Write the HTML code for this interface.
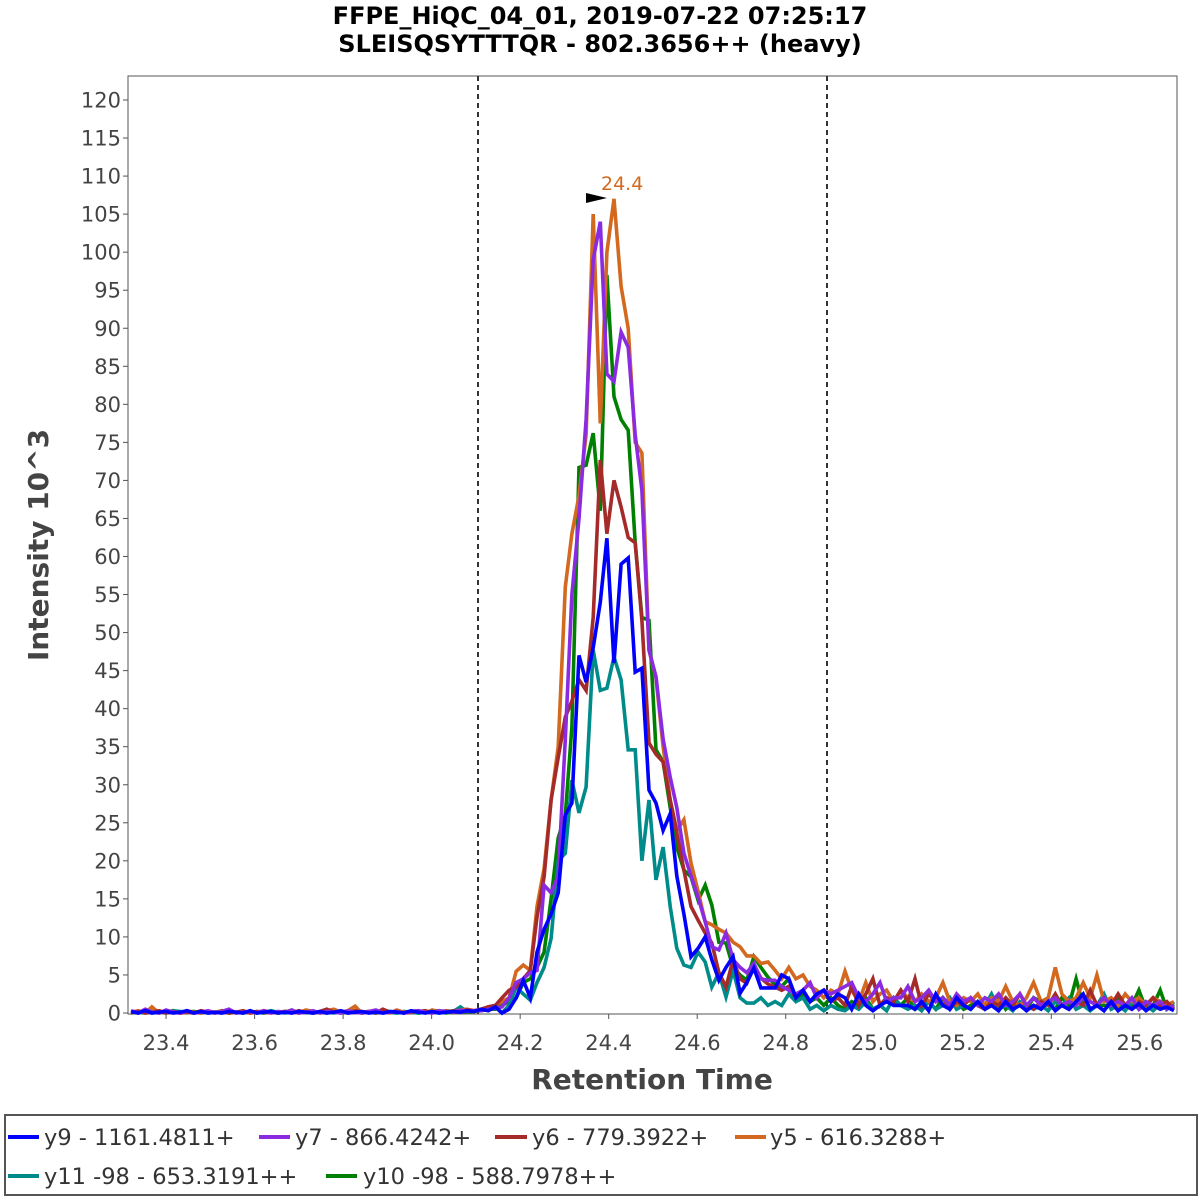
<!DOCTYPE html>
<html><head><meta charset="utf-8"><style>
html,body{margin:0;padding:0;background:#fff;width:1200px;height:1200px;overflow:hidden}
svg text{font-family:"DejaVu Sans","Liberation Sans",sans-serif}
</style></head><body>
<svg id="chart" width="1200" height="1200" viewBox="0 0 1200 1200" xmlns="http://www.w3.org/2000/svg">
<rect x="0" y="0" width="1200" height="1200" fill="#fff"/>
<text x="600" y="24" text-anchor="middle" font-size="24" font-weight="bold" fill="#000">FFPE_HiQC_04_01, 2019-07-22 07:25:17</text>
<text x="600" y="52" text-anchor="middle" font-size="24" font-weight="bold" fill="#000">SLEISQSYTTTQR - 802.3656++ (heavy)</text>
<rect x="128" y="76" width="1049" height="938" fill="#fff" stroke="#555" stroke-width="1"/>
<g id="yticks"></g>
<g id="xticks"></g>
<line x1="478" y1="76" x2="478" y2="1014" stroke="#333" stroke-width="2" stroke-dasharray="5,4"/>
<line x1="827" y1="76" x2="827" y2="1014" stroke="#333" stroke-width="2" stroke-dasharray="5,4"/>
<g id="series"></g>
<polygon points="586,193 607,198 586,203" fill="#000"/>
<text x="601" y="190" font-size="19" fill="#d2691e">24.4</text>
<text x="0" y="0" transform="translate(48,545) rotate(-90)" text-anchor="middle" font-size="28" font-weight="bold" fill="#444">Intensity 10^3</text>
<text x="652" y="1089" text-anchor="middle" font-size="28" font-weight="bold" fill="#444">Retention Time</text>
<g>
<rect x="5" y="1115" width="1192" height="80" fill="#fff" stroke="#555" stroke-width="2"/>
<line x1="8" y1="1137" x2="39" y2="1137" stroke="#0000ff" stroke-width="4"/>
<text x="44" y="1145" font-size="22.5" fill="#333">y9 - 1161.4811+</text>
<line x1="259" y1="1137" x2="290" y2="1137" stroke="#8a2be2" stroke-width="4"/>
<text x="295" y="1145" font-size="22.5" fill="#333">y7 - 866.4242+</text>
<line x1="495" y1="1137" x2="527" y2="1137" stroke="#a52a2a" stroke-width="4"/>
<text x="532" y="1145" font-size="22.5" fill="#333">y6 - 779.3922+</text>
<line x1="735" y1="1137" x2="766" y2="1137" stroke="#d2691e" stroke-width="4"/>
<text x="770" y="1145" font-size="22.5" fill="#333">y5 - 616.3288+</text>
<line x1="8" y1="1176" x2="39" y2="1176" stroke="#008b8b" stroke-width="4"/>
<text x="44" y="1184" font-size="22.5" fill="#333">y11 -98 - 653.3191++</text>
<line x1="326" y1="1176" x2="357" y2="1176" stroke="#008000" stroke-width="4"/>
<text x="363" y="1184" font-size="22.5" fill="#333">y10 -98 - 588.7978++</text>
</g>
</svg>
<script>
const times = [
23.321,23.337,23.353,23.368,23.384,23.400,23.416,23.432,23.447,23.463,
23.479,23.495,23.511,23.526,23.542,23.558,23.574,23.590,23.605,23.621,
23.637,23.653,23.669,23.684,23.700,23.716,23.732,23.748,23.763,23.779,
23.795,23.811,23.827,23.842,23.858,23.874,23.890,23.906,23.921,23.937,
23.954,23.970,23.986,24.001,24.017,24.033,24.049,24.065,24.080,24.096,
24.112,24.128,24.144,24.159,24.175,24.191,24.207,24.223,24.238,24.254,
24.270,24.286,24.302,24.317,24.333,24.349,24.365,24.381,24.396,24.412,
24.428,24.444,24.460,24.475,24.491,24.507,24.523,24.539,24.554,24.570,
24.586,24.602,24.618,24.633,24.649,24.665,24.681,24.697,24.712,24.728,
24.744,24.760,24.776,24.791,24.807,24.823,24.839,24.855,24.870,24.886,
24.902,24.918,24.934,24.949,24.965,24.981,24.997,25.013,25.028,25.044,
25.060,25.076,25.092,25.107,25.123,25.139,25.155,25.171,25.186,25.202,
25.218,25.234,25.250,25.265,25.281,25.297,25.313,25.329,25.344,25.360,
25.377,25.393,25.409,25.424,25.440,25.456,25.472,25.488,25.503,25.519,
25.535,25.551,25.567,25.582,25.598,25.614,25.630,25.646,25.661,25.677];
const y9 = [
0.2,0,0.3,0,0.1,0.2,0,0.1,0.3,0,
0.2,0,0.1,0,0.2,0.1,0,0.3,0,0.1,
0.2,0,0.1,0,0.2,0.1,0,0.2,0,0.1,
0.3,0,0.1,0.2,0,0.1,0,0.2,0.1,0,
0.3,0.1,0,0.2,0,0.1,0.2,0.1,0.3,0.2,
0.5,0.3,0.8,0,0.5,2,4.3,2,8,11,
13,15.8,26,27.6,47,43.5,48,54,62.4,46,
59,59.8,44.8,45.3,29.3,27.6,24,26.2,18,13,
7.4,8.5,10,7,4.3,6,7.4,2.6,4,5.9,
3.3,3.3,3.3,5,4.5,2,3,1.5,2.5,3,
1.5,2.5,2,0.5,2.5,1,0.3,1,1.5,1,
1,1,0.5,1.5,0.3,2.5,1,0.5,2,1,
0.5,1.5,0.5,1,0.3,1.5,0.5,1,0.3,1,
0.5,1.5,0.3,1,0.5,1.5,2.5,0.5,1,0.3,
1.5,0.3,1,0.5,1.2,0.3,1,0.5,0.8,0.3];
const y7 = [
0.3,0,0.5,0.1,0,0.4,0.1,0,0.3,0,
0.1,0.3,0,0.2,0.5,0,0.1,0.2,0,0.3,
0,0.2,0.1,0.4,0,0.1,0.3,0,0.2,0.1,
0,0.3,0.1,0,0.2,0.4,0,0.1,0.2,0,
0.2,0.3,0.1,0,0.3,0.2,0.1,0.4,0.2,0.3,
0.3,0.5,0.6,0.8,2,4,4.5,5.3,5.6,16.8,
15.8,18,36,55,65,78,99,104,84,83,
89.5,87.5,76,68.7,47.7,44.2,36,31,27,21,
18,15.2,12,8.7,8.3,10.5,7,6,5.3,6.5,
4.5,4.3,4.3,3.5,3,2.5,3,4,2,3,
2.5,3,3.5,4,2,1.5,2.5,4,1.5,2,
2,3.5,1.5,2,3,1.5,2,1,2.5,1.5,
2,1,2,1.5,2.5,1,1.5,2.5,1,2,
1,1.5,2,1,1.5,1,2,1.5,1,2,
1,1.5,1,2,0.5,1.5,1,1.5,0.5,1];
const y6 = [
0,0.2,0,0.1,0.3,0,0.2,0,0.1,0,
0.3,0.1,0,0.2,0,0.1,0.3,0,0.2,0.1,
0,0.1,0.2,0,0.3,0.1,0,0.2,0.5,0.1,
0.2,0,0.3,0.1,0.2,0,0.5,0.1,0.2,0,
0.1,0.2,0.3,0,0.2,0.1,0.3,0.2,0.4,0.3,
0.5,0.8,1,2,3,3.4,4.5,5.6,12.6,17.9,
28,33.6,38.9,41,43.8,42.4,52,72.7,63,70,
66.5,62.5,61.8,51.6,35.5,34,33,28,23.7,18.8,
14,12.2,10.5,9.2,5.3,3.4,7,4.5,3.9,6.3,
4.6,3.8,3.4,3,3.5,2,3,1.5,2.5,3,
1.5,2,1,3.5,1,2.5,4.5,1,2,1.5,
3,1.5,4.5,1,2.5,1.5,2,0.5,1.5,1,
2,1,0.5,1.5,1,2,1,2.5,1,0.5,
1.5,1,2.5,1,0.5,1.5,1,3,1,2,
1,2.5,1,0.5,1.5,1,2,1,1.5,0.5];
const y5 = [
0.1,0.3,0,0.8,0,0.2,0.1,0,0.3,0.1,
0,0.2,0.1,0.3,0,0.1,0.2,0,0.1,0.3,
0.1,0,0.2,0.1,0,0.4,0.2,0,0.3,0.5,
0.1,0.3,0.9,0,0.2,0.1,0.3,0,0.4,0.1,
0.2,0.3,0,0.4,0.2,0.3,0.1,0.4,0.5,0.3,
0.5,0.8,1,1.5,2,5.5,6.3,5.6,14,19,
28,35,56,63,68,76,105,77.5,100,107,
95.5,90,75,73.6,47.7,44,35,28,24,25.4,
19.7,16,12,11.6,11,10.5,9.3,8.7,7.5,7.5,
6.5,6.7,5.6,4.5,6,4.5,5,3.5,3,2,
3,2.5,5.5,3,1.5,4,1.5,2.5,3,1.5,
3,2,1.5,2.5,1.5,2,4,1.5,1,2,
1.5,2.5,1,2,1.5,3.5,1.5,1,2,4,
1.5,2,6,2.5,1.5,2,4,2,5,1.5,
2,1,2.5,1.5,2,1,2,1.5,1,1.5];
const y11 = [
0,0.1,0,0.2,0,0.1,0.3,0.2,0.1,0,
0.2,0,0.1,0,0.2,0,0.1,0.2,0,0.1,
0.3,0.1,0,0.2,0,0.1,0,0.2,0.1,0,
0.1,0,0.2,0,0.1,0.3,0,0.1,0,0.2,
0.1,0,0.2,0.1,0,0.3,0.2,0.8,0.2,0.3,
0.3,0.5,0.8,0,1,3.4,2.5,1.7,4,6,
9.8,20,21,30.6,26.3,29.7,47.7,42.4,42.7,46.8,
43.8,34.6,34.6,20,28,17.5,21.8,14,8.5,6.3,
6,8,6.7,3.4,5.3,2.1,5.6,2,1.3,1.3,
2,1,1.5,1,2.5,1.5,2,0.5,1,0.3,
1,0.5,0.3,1,0.5,1.5,0.5,1,0.3,2,
1,0.5,1,0.3,1.5,0.5,1,2,0.5,1,
0.5,1.5,1,2.5,0.5,1,0.3,1.5,1,0.5,
1,0.3,1.5,1,2,0.5,1,0.3,1,2.5,
0.5,1,0.3,1.5,0.5,1,0.3,1.2,0.5,1.5];
const y10 = [
0.1,0,0.2,0,0.1,0,0.3,0,0.1,0.2,
0,0.1,0,0.3,0,0.1,0,0.2,0.1,0,
0.2,0,0.1,0.4,0,0.2,0,0.1,0,0.2,
0,0.1,0.2,0,0.1,0,0.2,0.1,0,0.1,
0.2,0,0.1,0.2,0.3,0,0.2,0.3,0.1,0.2,
0.3,0.5,0.5,1,1.5,2,4,4.5,6,8,
15,23,26,37.6,71.7,72,76.2,66,97,81,
78,76.6,61.8,52,51.6,34.6,33,27,21.8,18.8,
17.9,14.8,16.8,14.2,9.3,9.2,6,5,4.3,7.4,
6,4.7,3.7,3.5,4.5,2,2.5,1.5,2,1,
2,1,0.5,1.5,1,2,0.5,1,2,1.5,
1,2,0.5,1,1.5,0.5,2,1,1.5,0.5,
1,1.5,0.5,1,2,0.5,1.5,1,0.5,2,
1.5,1,0.5,2,1,4.5,1,0.5,1,1,
1,2,0.5,1,3,0.5,1,3,0.5,1.2];
const xTicks = ["23.4","23.6","23.8","24.0","24.2","24.4","24.6","24.8","25.0","25.2","25.4","25.6"];
const yTicks = [0,5,10,15,20,25,30,35,40,45,50,55,60,65,70,75,80,85,90,95,100,105,110,115,120];

const NS = "http://www.w3.org/2000/svg";
const X0 = 23.314, X1 = 25.684, PX0 = 128, PX1 = 1177;
const PY0 = 1013, PY1 = 100;
function xs(t){ return PX0 + (t - X0) / (X1 - X0) * (PX1 - PX0); }
function ys(v){ return PY0 - v / 120 * (PY0 - PY1); }

const yg = document.getElementById('yticks');
yTicks.forEach(v => {
  const y = ys(v);
  const l = document.createElementNS(NS,'line');
  l.setAttribute('x1',123); l.setAttribute('x2',128);
  l.setAttribute('y1',y); l.setAttribute('y2',y);
  l.setAttribute('stroke','#555');
  
  
  yg.appendChild(l);
  const t = document.createElementNS(NS,'text');
  t.setAttribute('x',121); t.setAttribute('y',y+7.5);
  t.setAttribute('text-anchor','end'); t.setAttribute('font-size','21'); t.setAttribute('fill','#444');
  t.textContent = v;
  
  
  yg.appendChild(t);
});
const xg = document.getElementById('xticks');
xTicks.forEach(s => {
  const x = xs(parseFloat(s));
  const l = document.createElementNS(NS,'line');
  l.setAttribute('x1',x); l.setAttribute('x2',x);
  l.setAttribute('y1',1014); l.setAttribute('y2',1019);
  l.setAttribute('stroke','#555');
  
  
  xg.appendChild(l);
  const t = document.createElementNS(NS,'text');
  t.setAttribute('x',x); t.setAttribute('y',1050);
  t.setAttribute('text-anchor','middle'); t.setAttribute('font-size','21'); t.setAttribute('fill','#444');
  t.textContent = s;
  
  
  xg.appendChild(t);
});

const sg = document.getElementById('series');
const order = [[y10,'#008000','series-y10'],[y11,'#008b8b','series-y11'],[y5,'#d2691e','series-y5'],[y6,'#a52a2a','series-y6'],[y7,'#8a2be2','series-y7'],[y9,'#0000ff','series-y9']];
order.forEach(([vals,color,name]) => {
  const n = Math.min(vals.length, times.length);
  let d = '';
  for (let i = 0; i < n; i++) d += (i ? 'L' : 'M') + xs(times[i]).toFixed(1) + ',' + ys(vals[i]).toFixed(1);
  const p = document.createElementNS(NS,'path');
  p.setAttribute('d', d); p.setAttribute('fill','none');
  p.setAttribute('stroke', color); p.setAttribute('stroke-width','3.6');
  p.setAttribute('stroke-linejoin','miter');
  
  
  sg.appendChild(p);
});
</script>
</body></html>
